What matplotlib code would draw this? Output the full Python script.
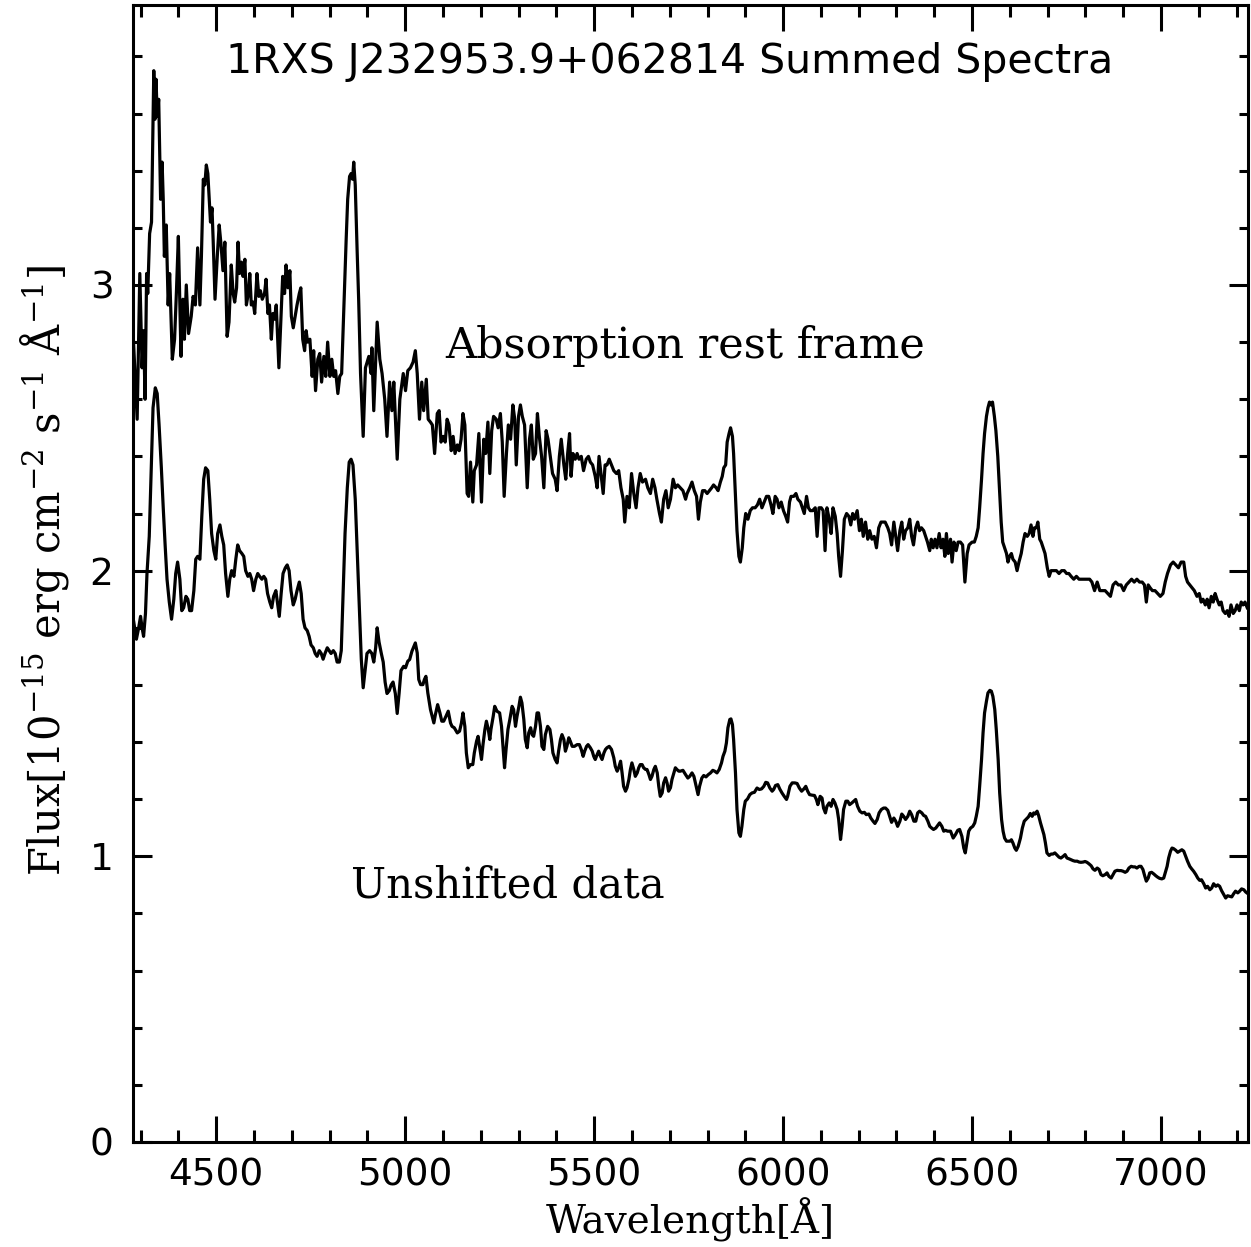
import numpy as np
import matplotlib
matplotlib.use("Agg")
import matplotlib.pyplot as plt
from matplotlib.ticker import MultipleLocator

# Spectrum (wavelength in A, flux in 1e-15 erg/cm2/s/A)
# "Absorption rest frame" (upper) spectrum
upper_blue = [
    (4281, 2.81), (4291, 2.53), (4298, 3.04), (4304, 2.71), (4308, 2.84), (4312, 2.60),
    (4316, 3.04), (4319, 2.97), (4324, 3.18), (4329, 3.22), (4335, 3.75), (4338, 3.58),
    (4341, 3.72), (4344, 3.59), (4348, 3.65), (4353, 3.30), (4357, 3.43), (4360, 3.30),
    (4363, 3.10), (4368, 3.21), (4373, 2.93), (4377, 3.04), (4384, 2.74), (4390, 2.81),
    (4395, 2.98), (4400, 3.17), (4407, 2.75), (4412, 2.95), (4416, 2.81), (4421, 3.00),
    (4427, 2.83), (4434, 2.89), (4439, 2.96), (4445, 2.93), (4451, 3.13), (4457, 2.93),
    (4461, 3.10), (4466, 3.37), (4470, 3.35), (4474, 3.42), (4478, 3.39), (4482, 3.29),
    (4485, 3.22), (4489, 3.27), (4492, 3.16), (4497, 2.95), (4503, 3.10), (4508, 3.21),
    (4513, 3.14), (4518, 3.05), (4523, 3.15), (4529, 2.82), (4534, 2.87), (4540, 3.07),
    (4545, 2.97), (4549, 2.94), (4554, 2.99), (4558, 3.15), (4562, 3.04), (4567, 3.08),
    (4571, 3.03), (4576, 3.09), (4580, 2.93), (4585, 2.97), (4589, 3.04), (4593, 2.93),
    (4598, 2.94), (4602, 2.90), (4608, 3.04), (4613, 2.96), (4617, 2.98), (4622, 2.95),
    (4628, 2.97), (4632, 3.02), (4637, 2.90), (4641, 2.93), (4646, 2.81), (4650, 2.90),
    (4654, 2.88), (4659, 2.93), (4666, 2.71), (4672, 2.90), (4676, 3.03), (4681, 2.97),
    (4685, 3.07), (4690, 2.99), (4695, 3.05), (4699, 2.89), (4704, 2.85), (4709, 2.89),
    (4714, 2.93), (4720, 2.97), (4724, 2.99), (4729, 2.81), (4734, 2.77), (4738, 2.84),
    (4742, 2.80), (4748, 2.81), (4754, 2.68), (4758, 2.77), (4763, 2.63), (4769, 2.74),
    (4774, 2.76), (4779, 2.66), (4785, 2.75), (4790, 2.68), (4795, 2.80), (4801, 2.68),
    (4806, 2.74), (4811, 2.68), (4816, 2.70), (4822, 2.62), (4827, 2.68), (4832, 2.69),
    (4838, 2.93), (4844, 3.16), (4848, 3.30), (4853, 3.38), (4857, 3.39), (4861, 3.37),
    (4864, 3.43), (4868, 3.35), (4873, 3.12), (4877, 2.95), (4882, 2.69), (4889, 2.47),
    (4895, 2.71), (4904, 2.75), (4910, 2.69), (4912, 2.78), (4917, 2.56), (4926, 2.87),
    (4933, 2.74), (4939, 2.69), (4946, 2.60), (4952, 2.47), (4959, 2.66), (4965, 2.56),
    (4970, 2.66), (4979, 2.39), (4986, 2.60), (4995, 2.69), (5001, 2.63), (5007, 2.70),
    (5014, 2.71), (5021, 2.73), (5027, 2.77), (5032, 2.69), (5038, 2.53), (5044, 2.66),
    (5049, 2.56), (5056, 2.67), (5061, 2.53), (5067, 2.52), (5072, 2.51), (5078, 2.41),
    (5085, 2.55), (5090, 2.56), (5095, 2.45), (5101, 2.47), (5106, 2.45), (5111, 2.53),
    (5116, 2.51), (5122, 2.42), (5127, 2.47), (5132, 2.41), (5138, 2.44), (5143, 2.42),
    (5148, 2.46), (5153, 2.55), (5158, 2.51), (5164, 2.27), (5168, 2.26), (5173, 2.38),
    (5179, 2.24), (5183, 2.35), (5189, 2.37), (5195, 2.48), (5202, 2.24), (5208, 2.46),
    (5213, 2.41), (5219, 2.52), (5224, 2.34), (5229, 2.49), (5234, 2.54), (5241, 2.53),
    (5246, 2.50), (5252, 2.55), (5257, 2.45), (5262, 2.26), (5268, 2.41), (5273, 2.51),
    (5279, 2.46), (5285, 2.58), (5290, 2.53), (5294, 2.37), (5300, 2.54), (5305, 2.58),
    (5310, 2.54), (5316, 2.51), (5323, 2.29), (5329, 2.46), (5334, 2.51), (5339, 2.39),
    (5345, 2.41), (5350, 2.55), (5355, 2.47), (5361, 2.40), (5367, 2.29), (5373, 2.49),
    (5378, 2.46), (5384, 2.40), (5390, 2.34), (5397, 2.32), (5402, 2.28), (5408, 2.40),
    (5413, 2.46), (5420, 2.37), (5425, 2.32), (5430, 2.41), (5435, 2.48), (5439, 2.33),
    (5444, 2.41), (5450, 2.39), (5455, 2.41), (5460, 2.39), (5466, 2.40), (5472, 2.35),
    (5479, 2.39), (5485, 2.40), (5490, 2.38), (5496, 2.37), (5503, 2.33), (5508, 2.29),
    (5513, 2.40), (5518, 2.34), (5524, 2.27), (5529, 2.37), (5534, 2.37), (5540, 2.39),
    (5546, 2.37), (5552, 2.35), (5559, 2.34), (5565, 2.35), (5571, 2.29), (5577, 2.25),
    (5581, 2.17), (5587, 2.26), (5593, 2.22), (5599, 2.34), (5605, 2.27), (5611, 2.22),
    (5616, 2.29), (5622, 2.34), (5628, 2.31), (5636, 2.32), (5642, 2.29), (5649, 2.27),
    (5655, 2.32), (5661, 2.29), (5666, 2.25), (5673, 2.20), (5678, 2.17), (5684, 2.25),
    (5690, 2.28), (5696, 2.22), (5702, 2.25), (5709, 2.32), (5715, 2.29), (5721, 2.30),
    (5728, 2.29), (5735, 2.28), (5742, 2.25), (5746, 2.27), (5753, 2.29), (5759, 2.31),
    (5765, 2.28), (5771, 2.26), (5776, 2.18),
]
upper_red = [
    (5781, 2.24), (5787, 2.28), (5793, 2.28), (5799, 2.27), (5805, 2.28), (5811, 2.29),
    (5816, 2.30), (5823, 2.29), (5828, 2.28), (5834, 2.31), (5839, 2.33), (5843, 2.36),
    (5848, 2.37), (5852, 2.45), (5857, 2.48), (5861, 2.50), (5866, 2.47), (5869, 2.41),
    (5874, 2.26), (5878, 2.14), (5883, 2.05), (5887, 2.03), (5892, 2.08), (5896, 2.15),
    (5901, 2.20), (5907, 2.18), (5913, 2.21), (5919, 2.22), (5926, 2.22), (5932, 2.23),
    (5938, 2.25), (5944, 2.22), (5950, 2.24), (5956, 2.26), (5962, 2.26), (5968, 2.23),
    (5973, 2.20), (5979, 2.26), (5984, 2.25), (5989, 2.22), (5995, 2.24), (6001, 2.21),
    (6007, 2.19), (6012, 2.17), (6017, 2.24), (6021, 2.26), (6028, 2.26), (6034, 2.27),
    (6039, 2.25), (6046, 2.24), (6051, 2.22), (6056, 2.20), (6062, 2.26), (6067, 2.22),
    (6072, 2.21), (6078, 2.21), (6085, 2.22), (6090, 2.12), (6095, 2.22), (6101, 2.22),
    (6106, 2.21), (6111, 2.07), (6116, 2.22), (6122, 2.18), (6127, 2.13), (6132, 2.22),
    (6138, 2.19), (6143, 2.13), (6147, 2.05), (6152, 1.98), (6157, 2.07), (6162, 2.18),
    (6168, 2.20), (6174, 2.19), (6179, 2.16), (6184, 2.20), (6189, 2.18), (6196, 2.21),
    (6202, 2.14), (6207, 2.18), (6212, 2.12), (6218, 2.17), (6224, 2.11), (6229, 2.14),
    (6235, 2.11), (6241, 2.12), (6247, 2.08), (6253, 2.15), (6259, 2.17), (6265, 2.17),
    (6270, 2.17), (6277, 2.15), (6282, 2.13), (6287, 2.09), (6293, 2.17), (6298, 2.12),
    (6303, 2.07), (6309, 2.14), (6314, 2.17), (6319, 2.11), (6324, 2.14), (6330, 2.15),
    (6335, 2.18), (6340, 2.12), (6345, 2.09), (6351, 2.15), (6356, 2.17), (6361, 2.14),
    (6366, 2.15), (6372, 2.14), (6377, 2.12), (6382, 2.10), (6388, 2.07), (6392, 2.11),
    (6397, 2.08), (6402, 2.11), (6407, 2.08), (6413, 2.13), (6418, 2.08), (6423, 2.11),
    (6428, 2.05), (6432, 2.13), (6437, 2.06), (6443, 2.11), (6447, 2.03), (6452, 2.10),
    (6458, 2.07), (6463, 2.10), (6469, 2.10), (6475, 2.09), (6481, 1.96), (6487, 2.06),
    (6492, 2.09), (6500, 2.10), (6506, 2.10), (6511, 2.12), (6516, 2.15), (6520, 2.22),
    (6525, 2.32), (6529, 2.41), (6533, 2.48), (6538, 2.54), (6542, 2.57), (6546, 2.59),
    (6550, 2.58), (6554, 2.59), (6559, 2.54), (6563, 2.49), (6568, 2.40), (6572, 2.30),
    (6577, 2.17), (6581, 2.10), (6586, 2.08), (6591, 2.06), (6595, 2.03), (6599, 2.05),
    (6604, 2.06), (6608, 2.04), (6614, 2.03), (6619, 2.00), (6624, 2.03), (6630, 2.06),
    (6635, 2.10), (6640, 2.13), (6646, 2.12), (6651, 2.13), (6656, 2.16), (6661, 2.12),
    (6665, 2.15), (6670, 2.15), (6674, 2.17), (6679, 2.11), (6683, 2.10), (6688, 2.08),
    (6693, 2.06), (6699, 2.01), (6704, 1.98), (6709, 2.00), (6716, 2.00), (6723, 2.00),
    (6730, 1.99), (6737, 2.00), (6744, 2.00), (6750, 1.99), (6756, 1.99), (6762, 1.98),
    (6769, 1.97), (6776, 1.98), (6783, 1.97), (6790, 1.97), (6797, 1.97), (6804, 1.97),
    (6811, 1.97), (6817, 1.96), (6824, 1.93), (6831, 1.96), (6838, 1.93), (6845, 1.93),
    (6852, 1.93), (6859, 1.92), (6866, 1.91), (6873, 1.95), (6880, 1.96), (6887, 1.95),
    (6894, 1.95), (6901, 1.93), (6908, 1.95), (6915, 1.96), (6922, 1.97), (6929, 1.96),
    (6936, 1.97), (6943, 1.96), (6950, 1.96), (6956, 1.95), (6961, 1.89), (6966, 1.95),
    (6971, 1.94), (6977, 1.93), (6984, 1.93), (6991, 1.92), (6998, 1.91), (7005, 1.92),
    (7011, 1.96), (7017, 1.99), (7025, 2.02), (7032, 2.03), (7039, 2.02), (7046, 2.01),
    (7053, 2.03), (7060, 2.03), (7065, 1.98), (7070, 1.96), (7076, 1.95), (7082, 1.94),
    (7088, 1.93), (7095, 1.91), (7101, 1.92), (7106, 1.89), (7111, 1.90), (7117, 1.88),
    (7122, 1.90), (7127, 1.87), (7133, 1.91), (7138, 1.89), (7143, 1.92), (7148, 1.90),
    (7154, 1.88), (7159, 1.89), (7164, 1.86), (7170, 1.85), (7175, 1.86), (7180, 1.84),
    (7185, 1.88), (7191, 1.85), (7196, 1.86), (7201, 1.88), (7207, 1.86), (7212, 1.89),
    (7217, 1.88), (7222, 1.89), (7228, 1.87),
]

# "Unshifted data" (lower) spectrum
lower_blue = [
    (4282, 1.82), (4289, 1.76), (4295, 1.80), (4300, 1.84), (4304, 1.80), (4308, 1.77),
    (4313, 1.85), (4317, 1.99), (4323, 2.12), (4328, 2.35), (4333, 2.57), (4339, 2.64),
    (4344, 2.62), (4349, 2.51), (4355, 2.36), (4360, 2.22), (4365, 2.09), (4370, 1.97),
    (4376, 1.89), (4382, 1.83), (4388, 1.90), (4393, 1.99), (4398, 2.03), (4404, 1.97),
    (4409, 1.86), (4414, 1.87), (4420, 1.91), (4425, 1.90), (4430, 1.86), (4435, 1.86),
    (4441, 1.93), (4446, 2.04), (4451, 2.05), (4457, 2.04), (4462, 2.19), (4467, 2.32),
    (4472, 2.36), (4478, 2.35), (4483, 2.25), (4488, 2.13), (4494, 2.07), (4499, 2.04),
    (4504, 2.13), (4510, 2.16), (4515, 2.12), (4520, 2.09), (4525, 1.99), (4531, 1.91),
    (4536, 1.97), (4541, 2.00), (4547, 1.98), (4552, 2.04), (4557, 2.09), (4562, 2.07),
    (4568, 2.06), (4573, 2.05), (4578, 2.00), (4584, 1.98), (4589, 1.99), (4594, 1.97),
    (4599, 1.93), (4605, 1.97), (4610, 1.99), (4615, 1.98), (4621, 1.97), (4626, 1.98),
    (4631, 1.97), (4636, 1.92), (4642, 1.89), (4647, 1.87), (4652, 1.91), (4658, 1.93),
    (4663, 1.88), (4667, 1.84), (4672, 1.92), (4677, 1.99), (4683, 2.01), (4688, 2.02),
    (4693, 2.00), (4698, 1.93), (4704, 1.88), (4709, 1.90), (4714, 1.93), (4720, 1.96),
    (4725, 1.92), (4730, 1.83), (4735, 1.80), (4741, 1.79), (4746, 1.77), (4751, 1.74),
    (4757, 1.73), (4762, 1.71), (4767, 1.70), (4773, 1.72), (4778, 1.71), (4783, 1.69),
    (4788, 1.71), (4794, 1.73), (4799, 1.72), (4804, 1.71), (4810, 1.72), (4815, 1.71),
    (4820, 1.68), (4826, 1.68), (4831, 1.72), (4836, 1.92), (4841, 2.13), (4847, 2.29),
    (4852, 2.38), (4857, 2.39), (4862, 2.37), (4868, 2.25), (4873, 2.08), (4878, 1.90),
    (4884, 1.69), (4889, 1.59), (4894, 1.65), (4899, 1.71), (4906, 1.72), (4912, 1.71),
    (4917, 1.68), (4922, 1.73), (4926, 1.80), (4931, 1.75), (4937, 1.71), (4942, 1.68),
    (4947, 1.61), (4952, 1.57), (4958, 1.58), (4963, 1.60), (4968, 1.61), (4974, 1.57),
    (4979, 1.50), (4984, 1.57), (4989, 1.65), (4996, 1.665), (5001, 1.66), (5007, 1.683),
    (5012, 1.689), (5018, 1.718), (5027, 1.747), (5032, 1.712), (5036, 1.619), (5041, 1.601),
    (5047, 1.601), (5051, 1.619), (5055, 1.63), (5060, 1.572), (5067, 1.514), (5076, 1.467),
    (5080, 1.496), (5086, 1.531), (5092, 1.502), (5097, 1.473), (5102, 1.473), (5108, 1.49),
    (5114, 1.508), (5120, 1.467), (5124, 1.455), (5130, 1.45), (5138, 1.432), (5144, 1.438),
    (5149, 1.467), (5153, 1.502), (5158, 1.455), (5162, 1.362), (5167, 1.31), (5173, 1.321),
    (5179, 1.321), (5183, 1.362), (5189, 1.403), (5193, 1.42), (5197, 1.385), (5202, 1.339),
    (5206, 1.391), (5211, 1.444), (5215, 1.473), (5220, 1.444), (5224, 1.409), (5227, 1.444),
    (5233, 1.49), (5237, 1.525), (5243, 1.508), (5250, 1.502), (5255, 1.455), (5259, 1.385),
    (5263, 1.31), (5267, 1.374), (5272, 1.444), (5277, 1.479), (5283, 1.525), (5287, 1.514),
    (5292, 1.455), (5296, 1.49), (5301, 1.525), (5305, 1.557), (5309, 1.537), (5314, 1.479),
    (5318, 1.409), (5323, 1.38), (5327, 1.432), (5332, 1.45), (5336, 1.426), (5340, 1.42),
    (5345, 1.455), (5349, 1.502), (5353, 1.502), (5358, 1.455), (5362, 1.385), (5367, 1.374),
    (5371, 1.426), (5377, 1.455), (5383, 1.444), (5387, 1.409), (5391, 1.362), (5397, 1.339),
    (5402, 1.327), (5406, 1.368), (5411, 1.409), (5415, 1.426), (5420, 1.409), (5424, 1.368),
    (5428, 1.385), (5433, 1.415), (5437, 1.403), (5442, 1.385), (5448, 1.385), (5455, 1.391),
    (5461, 1.391), (5466, 1.374), (5471, 1.35), (5475, 1.368), (5480, 1.385), (5484, 1.391),
    (5490, 1.38), (5495, 1.368), (5499, 1.35), (5503, 1.339), (5508, 1.356), (5512, 1.368),
    (5517, 1.35), (5521, 1.339), (5526, 1.362), (5530, 1.374), (5534, 1.38), (5540, 1.385),
    (5546, 1.374), (5552, 1.345), (5556, 1.315), (5561, 1.298), (5565, 1.31), (5570, 1.333),
    (5574, 1.292), (5578, 1.245), (5583, 1.228), (5587, 1.24), (5592, 1.269), (5596, 1.304),
    (5600, 1.327), (5605, 1.304), (5609, 1.28), (5614, 1.292), (5618, 1.31), (5622, 1.321),
    (5627, 1.321), (5631, 1.31), (5636, 1.304), (5640, 1.304), (5645, 1.286), (5649, 1.269),
    (5653, 1.28), (5658, 1.304), (5662, 1.315), (5667, 1.292), (5671, 1.245), (5675, 1.21),
    (5680, 1.222), (5684, 1.257), (5689, 1.275), (5693, 1.257), (5697, 1.228), (5702, 1.24),
    (5706, 1.269), (5711, 1.292), (5715, 1.31), (5719, 1.304), (5724, 1.298),
]
lower_red = [
    (5728, 1.298), (5735, 1.301), (5742, 1.286), (5748, 1.274), (5753, 1.28), (5759, 1.292),
    (5764, 1.28), (5770, 1.245), (5775, 1.216), (5779, 1.245), (5785, 1.274), (5790, 1.283),
    (5796, 1.278), (5802, 1.286), (5808, 1.292), (5814, 1.301), (5819, 1.298), (5825, 1.292),
    (5831, 1.304), (5837, 1.327), (5841, 1.35), (5846, 1.368), (5850, 1.397), (5854, 1.45),
    (5859, 1.479), (5862, 1.481), (5866, 1.461), (5869, 1.409), (5874, 1.292), (5878, 1.164),
    (5883, 1.082), (5887, 1.07), (5891, 1.105), (5896, 1.164), (5900, 1.193), (5906, 1.201),
    (5912, 1.216), (5918, 1.222), (5924, 1.224), (5931, 1.239), (5937, 1.234), (5943, 1.236),
    (5949, 1.245), (5954, 1.259), (5959, 1.257), (5965, 1.239), (5971, 1.228), (5975, 1.234),
    (5980, 1.248), (5986, 1.251), (5991, 1.236), (5997, 1.222), (6003, 1.21), (6009, 1.199),
    (6012, 1.21), (6018, 1.245), (6024, 1.257), (6031, 1.257), (6037, 1.255), (6043, 1.239),
    (6049, 1.228), (6055, 1.236), (6060, 1.245), (6065, 1.228), (6070, 1.216), (6077, 1.214),
    (6083, 1.213), (6088, 1.199), (6092, 1.181), (6098, 1.21), (6103, 1.204), (6107, 1.169),
    (6112, 1.152), (6116, 1.175), (6122, 1.187), (6127, 1.175), (6132, 1.199), (6137, 1.187),
    (6143, 1.164), (6147, 1.129), (6152, 1.059), (6156, 1.105), (6160, 1.164), (6166, 1.193),
    (6171, 1.193), (6176, 1.181), (6182, 1.187), (6187, 1.193), (6192, 1.199), (6197, 1.175),
    (6203, 1.158), (6209, 1.152), (6215, 1.154), (6220, 1.146), (6227, 1.148), (6232, 1.134),
    (6238, 1.123), (6243, 1.115), (6249, 1.129), (6254, 1.152), (6260, 1.164), (6266, 1.169),
    (6271, 1.169), (6277, 1.161), (6282, 1.14), (6287, 1.119), (6293, 1.134), (6298, 1.123),
    (6303, 1.105), (6309, 1.123), (6314, 1.148), (6319, 1.14), (6324, 1.129), (6330, 1.14),
    (6335, 1.158), (6340, 1.146), (6346, 1.123), (6351, 1.123), (6356, 1.152), (6361, 1.158),
    (6367, 1.152), (6372, 1.143), (6377, 1.14), (6383, 1.123), (6388, 1.105), (6393, 1.099),
    (6398, 1.094), (6404, 1.099), (6409, 1.108), (6414, 1.117), (6420, 1.105), (6425, 1.088),
    (6430, 1.091), (6435, 1.088), (6443, 1.088), (6450, 1.064), (6456, 1.076), (6462, 1.091),
    (6467, 1.094), (6473, 1.07), (6478, 1.029), (6482, 1.012), (6487, 1.053), (6491, 1.088),
    (6496, 1.099), (6502, 1.105), (6507, 1.117), (6511, 1.14), (6516, 1.175), (6520, 1.245),
    (6525, 1.339), (6529, 1.432), (6533, 1.502), (6538, 1.543), (6542, 1.572), (6547, 1.581),
    (6551, 1.578), (6555, 1.56), (6560, 1.514), (6564, 1.444), (6569, 1.339), (6573, 1.222),
    (6578, 1.129), (6582, 1.088), (6586, 1.064), (6591, 1.053), (6595, 1.053), (6600, 1.053),
    (6604, 1.058), (6608, 1.047), (6613, 1.029), (6617, 1.021), (6622, 1.035), (6628, 1.064),
    (6633, 1.099), (6638, 1.123), (6644, 1.131), (6649, 1.138), (6654, 1.15), (6659, 1.14),
    (6663, 1.152), (6667, 1.148), (6672, 1.158), (6676, 1.143), (6681, 1.117), (6685, 1.099),
    (6690, 1.076), (6694, 1.047), (6698, 1.012), (6704, 1.003), (6709, 1.008), (6714, 1.008),
    (6719, 1.012), (6725, 1.004), (6730, 0.997), (6735, 0.994), (6741, 1.0), (6746, 1.006),
    (6751, 0.994), (6757, 0.991), (6762, 0.988), (6767, 0.985), (6772, 0.983), (6778, 0.983),
    (6783, 0.98), (6788, 0.979), (6794, 0.98), (6799, 0.982), (6804, 0.979), (6809, 0.974),
    (6815, 0.967), (6820, 0.956), (6825, 0.951), (6831, 0.959), (6836, 0.954), (6841, 0.936),
    (6846, 0.932), (6852, 0.936), (6857, 0.942), (6862, 0.93), (6868, 0.924), (6873, 0.936),
    (6878, 0.948), (6884, 0.951), (6889, 0.95), (6894, 0.95), (6899, 0.948), (6905, 0.944),
    (6910, 0.948), (6915, 0.959), (6921, 0.965), (6926, 0.963), (6931, 0.963), (6936, 0.959),
    (6942, 0.965), (6947, 0.965), (6952, 0.954), (6957, 0.93), (6961, 0.913), (6966, 0.924),
    (6970, 0.942), (6975, 0.944), (6981, 0.938), (6986, 0.932), (6991, 0.927), (6996, 0.923),
    (7002, 0.921), (7007, 0.924), (7011, 0.942), (7016, 0.965), (7020, 0.994), (7025, 1.018),
    (7029, 1.029), (7033, 1.027), (7039, 1.021), (7044, 1.014), (7049, 1.018), (7055, 1.023),
    (7060, 1.018), (7065, 1.0), (7070, 0.983), (7076, 0.965), (7081, 0.956), (7086, 0.948),
    (7092, 0.936), (7097, 0.924), (7102, 0.916), (7107, 0.918), (7113, 0.904), (7118, 0.889),
    (7123, 0.895), (7129, 0.883), (7134, 0.889), (7139, 0.904), (7145, 0.895), (7150, 0.9),
    (7155, 0.895), (7160, 0.88), (7166, 0.866), (7171, 0.854), (7176, 0.862), (7182, 0.86),
    (7187, 0.858), (7192, 0.869), (7197, 0.878), (7203, 0.872), (7208, 0.878), (7213, 0.886),
    (7219, 0.883), (7224, 0.875), (7227, 0.872),
]

TITLE = "1RXS J232953.9+062814 Summed Spectra"
XLABEL = "Wavelength[Å]"
YLABEL = r"Flux[10$^{-15}$ erg cm$^{-2}$ s$^{-1}$ Å$^{-1}$]"
XLIM = (4280, 7230)
YLIM = (0, 3.98)

plt.rcParams["mathtext.fontset"] = "dejavuserif"

upper = np.array(upper_blue + upper_red)
lower = np.array(lower_blue + lower_red)

W, H = 1251, 1247
fig = plt.figure(figsize=(W / 100, H / 100), dpi=100)
ax = fig.add_axes([133 / W, (H - 1142) / H, (1248 - 133) / W, (1142 - 5) / H])

ax.plot(upper[:, 0], upper[:, 1], color="black", lw=2.3)
ax.plot(lower[:, 0], lower[:, 1], color="black", lw=2.3)

ax.set_xlim(*XLIM)
ax.set_ylim(*YLIM)

ax.xaxis.set_major_locator(MultipleLocator(500))
ax.xaxis.set_minor_locator(MultipleLocator(100))
ax.yaxis.set_major_locator(MultipleLocator(1))
ax.yaxis.set_minor_locator(MultipleLocator(0.2))

for s in ax.spines.values():
    s.set_linewidth(2.2)

ax.tick_params(which="both", direction="in", top=True, right=True, width=2.2)
ax.tick_params(axis="x", which="major", length=18.5, pad=11, labelsize=27)
ax.tick_params(axis="x", which="minor", length=8.6)
ax.tick_params(axis="y", which="major", length=13.7, pad=14, labelsize=27)
ax.tick_params(axis="y", which="minor", length=6.5)

# Annotations
ax.text(0.481, 0.94, TITLE, transform=ax.transAxes, ha="center", va="baseline",
        fontsize=29.5, family="DejaVu Sans")
ax.text(0.495, 0.6896, "Absorption rest frame", transform=ax.transAxes,
        ha="center", va="baseline", fontsize=31, family="DejaVu Serif")
ax.text(0.336, 0.2146, "Unshifted data", transform=ax.transAxes,
        ha="center", va="baseline", fontsize=30, family="DejaVu Serif")

fig.text(690.5 / W, 1 - 1234 / H, XLABEL, ha="center", va="baseline",
         fontsize=28, family="DejaVu Serif")
fig.text(45 / W, 1 - 571 / H, YLABEL, ha="center", va="center", rotation=90,
         fontsize=30, family="DejaVu Serif")

fig.savefig("out.png", dpi=100)
